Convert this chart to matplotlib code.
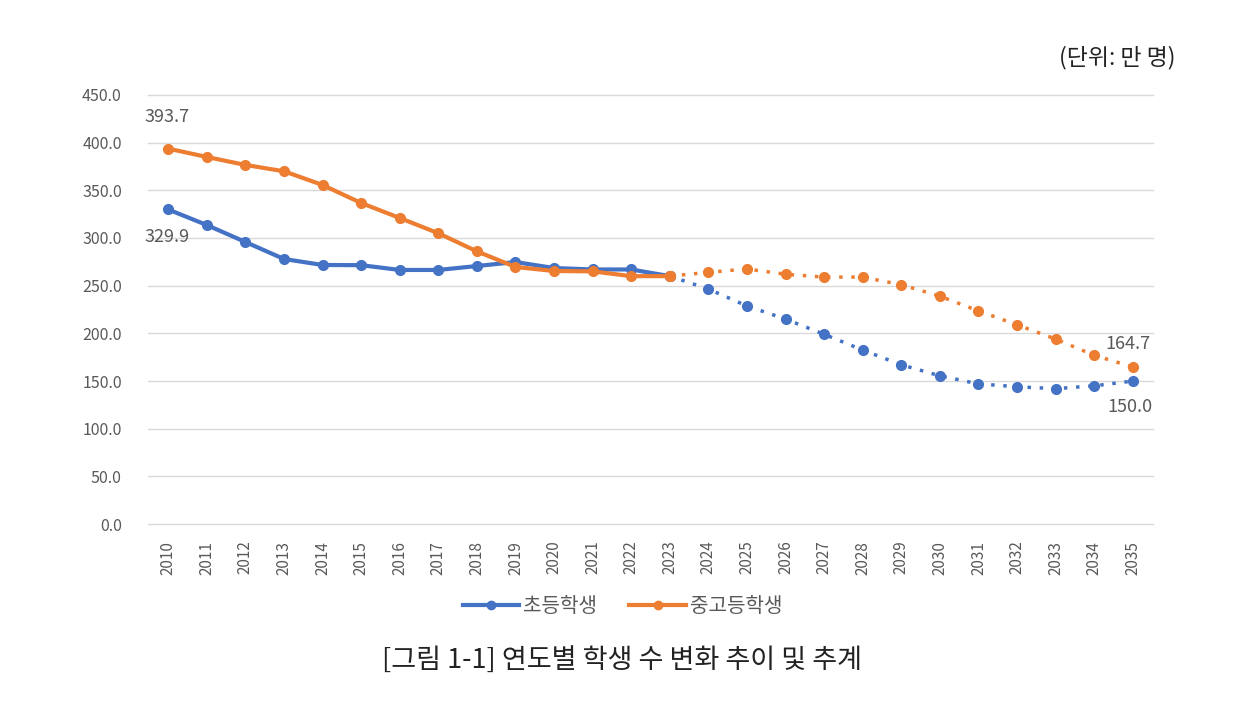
import matplotlib
matplotlib.use("Agg")
import matplotlib.pyplot as plt
from matplotlib.lines import Line2D

plt.rcParams['font.family'] = ['Noto Sans CJK KR', 'DejaVu Sans']

years = list(range(2010, 2036))
elementary = [329.9, 313.6, 295.8, 278.0, 271.7, 271.5, 266.5, 266.5, 270.6, 274.8,
              268.5, 267.0, 267.0, 260.0, 246.5, 228.7, 215.0, 199.0, 182.5, 167.0,
              155.5, 147.0, 144.0, 142.0, 145.0, 150.0]
secondary = [393.7, 385.0, 376.6, 370.0, 355.6, 336.7, 321.0, 305.0, 286.0, 269.6,
             265.4, 265.0, 260.0, 260.0, 264.0, 267.5, 262.0, 259.0, 259.0, 251.0,
             239.0, 223.5, 209.0, 194.0, 177.0, 164.7]
series_names = ['초등학생', '중고등학생']
colors = ['#4472C4', '#ED7D31']
split_year = 2023

fig = plt.figure(figsize=(12.45, 7.14), dpi=100)
ax = fig.add_axes([0.119, 0.266, 0.807, 0.601])

cut = years.index(split_year)
for vals, c in zip([elementary, secondary], colors):
    ax.plot(years[:cut + 1], vals[:cut + 1], color=c, lw=3, marker='o', ms=7, zorder=3)
    ax.plot(years[cut:], vals[cut:], color=c, lw=2.5, ls=(0, (1, 2.5)),
            marker='o', ms=7, zorder=3)

ax.set_xlim(years[0] - 0.52, years[-1] + 0.52)
ax.set_ylim(0, 450)
ax.set_yticks(range(0, 451, 50))
ax.set_yticklabels([f"{v:.1f}" for v in range(0, 451, 50)])
ax.set_xticks(years)
ax.set_xticklabels([str(y) for y in years], rotation=90)
ax.tick_params(axis='both', length=0, labelsize=11.5, colors='#595959')
ax.tick_params(axis='y', pad=19)
ax.tick_params(axis='x', pad=12, labelsize=11)
ax.grid(axis='y', color='#D9D9D9', lw=1)
for gl in ax.get_ygridlines():
    gl.set_clip_on(False)
ax.set_axisbelow(True)
for s in ax.spines.values():
    s.set_visible(False)

lab = dict(fontsize=13, color='#595959')
ax.annotate(f"{secondary[0]:.1f}", (years[0], secondary[0]), xytext=(-17, 16),
            textcoords='offset points', va='bottom', **lab)
ax.annotate(f"{elementary[0]:.1f}", (years[0], elementary[0]), xytext=(-17, -13),
            textcoords='offset points', va='top', **lab)
ax.annotate(f"{secondary[-1]:.1f}", (years[-1], secondary[-1]), xytext=(-20, 10),
            textcoords='offset points', va='bottom', **lab)
ax.annotate(f"{elementary[-1]:.1f}", (years[-1], elementary[-1]), xytext=(-18, -12),
            textcoords='offset points', va='top', **lab)

handles = [Line2D([], [], color=c, lw=3, marker='o', ms=6) for c in colors]
fig.legend(handles, series_names, loc='center', bbox_to_anchor=(0.5, 0.151), ncol=2,
           frameon=False, fontsize=14.5, handlelength=2.8, columnspacing=1.6,
           handletextpad=0.2, labelcolor='#595959')

fig.text(0.944, 0.92, '(단위: 만 명)', ha='right', va='center', fontsize=16.5, color='#222222')
fig.text(0.5, 0.074, '[그림 1-1] 연도별 학생 수 변화 추이 및 추계', ha='center',
         va='center', fontsize=19.5, color='#222222')

fig.savefig('out.png', dpi=100)
